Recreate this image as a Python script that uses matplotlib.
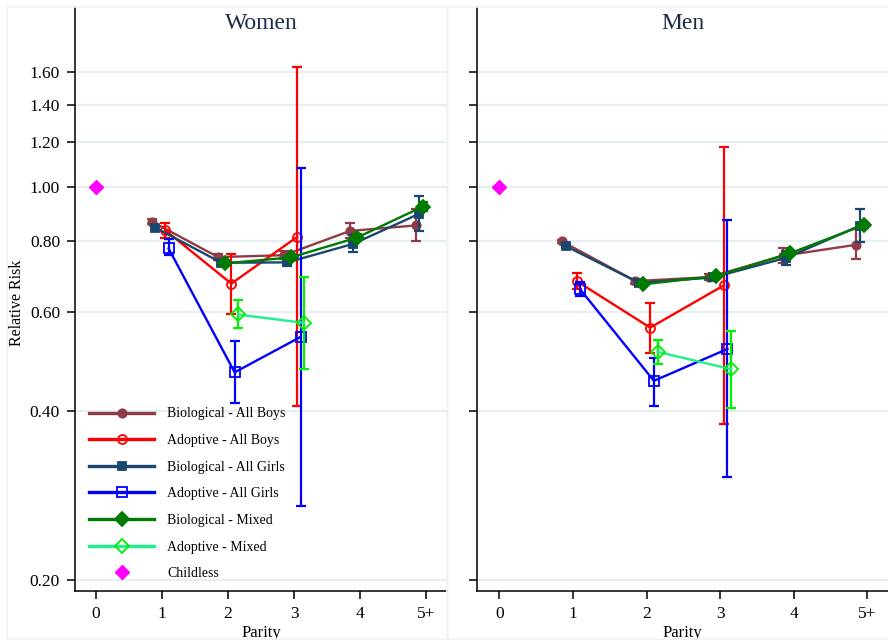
import matplotlib
matplotlib.use("Agg")
import matplotlib.pyplot as plt
from matplotlib.lines import Line2D
from matplotlib.patches import Rectangle
import numpy as np

plt.rcParams['font.family'] = ['Liberation Serif', 'DejaVu Serif']

# ---------------- data ----------------
parity_labels = ["0", "1", "2", "3", "4", "5+"]
yticks = [0.20, 0.40, 0.60, 0.80, 1.00, 1.20, 1.40, 1.60]

series_names = ["Biological - All Boys", "Adoptive - All Boys",
                "Biological - All Girls", "Adoptive - All Girls",
                "Biological - Mixed", "Adoptive - Mixed"]

# parity positions for each series
par_bio = [1, 2, 3, 4, 5]
par_ad = [1, 2, 3]
par_mix_bio = [2, 3, 4, 5]
par_mix_ad = [2, 3]

# Women
w_bio_boys = [0.867, 0.750, 0.756, 0.835, 0.854]
w_bio_boys_lo = [0.860, 0.740, 0.745, 0.810, 0.802]
w_bio_boys_hi = [0.875, 0.760, 0.768, 0.862, 0.912]
w_ad_boys = [0.837, 0.673, 0.815]
w_ad_boys_lo = [0.812, 0.594, 0.408]
w_ad_boys_hi = [0.863, 0.759, 1.635]
w_bio_girls = [0.846, 0.733, 0.734, 0.792, 0.896]
w_bio_girls_lo = [0.840, 0.725, 0.722, 0.765, 0.834]
w_bio_girls_hi = [0.853, 0.742, 0.746, 0.820, 0.963]
w_ad_girls = [0.777, 0.468, 0.541]
w_ad_girls_lo = [0.756, 0.413, 0.271]
w_ad_girls_hi = [0.807, 0.532, 1.080]
w_bio_mix = [0.731, 0.749, 0.812, 0.922]
w_bio_mix_lo = [0.725, 0.742, 0.800, 0.905]
w_bio_mix_hi = [0.737, 0.756, 0.825, 0.940]
w_ad_mix = [0.593, 0.573]
w_ad_mix_lo = [0.562, 0.474]
w_ad_mix_hi = [0.628, 0.691]
w_childless = 1.00

# Men
m_bio_boys = [0.800, 0.680, 0.691, 0.754, 0.789]
m_bio_boys_lo = [0.795, 0.673, 0.683, 0.731, 0.743]
m_bio_boys_hi = [0.805, 0.687, 0.700, 0.777, 0.840]
m_ad_boys = [0.680, 0.562, 0.668]
m_ad_boys_lo = [0.659, 0.507, 0.379]
m_ad_boys_hi = [0.702, 0.622, 1.178]
m_bio_girls = [0.785, 0.675, 0.690, 0.748, 0.853]
m_bio_girls_lo = [0.780, 0.668, 0.682, 0.726, 0.797]
m_bio_girls_hi = [0.790, 0.682, 0.698, 0.770, 0.913]
m_ad_girls = [0.657, 0.452, 0.515]
m_ad_girls_lo = [0.640, 0.408, 0.305]
m_ad_girls_hi = [0.676, 0.497, 0.872]
m_bio_mix = [0.671, 0.694, 0.762, 0.855]
m_bio_mix_lo = [0.667, 0.689, 0.755, 0.845]
m_bio_mix_hi = [0.675, 0.699, 0.770, 0.865]
m_ad_mix = [0.509, 0.474]
m_ad_mix_lo = [0.485, 0.405]
m_ad_mix_hi = [0.534, 0.554]
m_childless = 1.00

# ---------------- styles ----------------
offsets = [-0.15, 0.05, -0.10, 0.10, -0.05, 0.15]
line_colors = ["#903C46", "#FF0000", "#1A476F", "#0000FF", "#007A00", "#1EF08C"]
err_colors = ["#903C46", "#FF0000", "#1A476F", "#0000FF", "#007A00", "#00F000"]
markers = ["o", "o", "s", "s", "D", "D"]
filled = [True, False, True, False, True, False]
msizes = [6, 6.5, 6.3, 6.5, 7, 7]
grid_c = "#E6EEF1"
title_c = "#1E2A4A"

W, H = 888, 640
fig = plt.figure(figsize=(W / 100, H / 100), dpi=100)

# panel outlines
for (x0, x1) in [(7, 447), (448, 895)]:
    fig.add_artist(Rectangle((x0 / W, 1 - 639 / H), (x1 - x0) / W, (639 - 7) / H,
                             transform=fig.transFigure, fill=False,
                             edgecolor="#EEF3F5", lw=1.2))

axL = fig.add_axes([75.3 / W, 49 / H, (447 - 75.3) / W, 584 / H])
axR = fig.add_axes([477.3 / W, 49 / H, (888 - 477.3) / W, 584 / H])


def draw(ax, title, data, childless, xlim, show_labels):
    ax.set_yscale("log")
    ax.set_ylim(0.1912, 2.088)
    ax.set_xlim(*xlim)
    for yv in yticks:
        ax.axhline(yv, color=grid_c, lw=1.6, zorder=0)
    for i, (pars, vals, lo, hi) in enumerate(data):
        xs = np.array(pars, dtype=float) + offsets[i]
        v = np.array(vals)
        yerr = np.vstack([v - np.array(lo), np.array(hi) - v])
        ax.errorbar(xs, v, yerr=yerr, fmt="none", ecolor=err_colors[i],
                    elinewidth=1.6, capsize=3.5, capthick=1.6, zorder=2 + i)
        mfc = err_colors[i] if filled[i] else "none"
        ax.plot(xs, v, color=line_colors[i], lw=1.7, zorder=2 + i)
        ax.plot(xs, v, ls="none", marker=markers[i], ms=msizes[i],
                mfc=mfc, mec=err_colors[i], mew=1.3, zorder=2.5 + i)
    ax.plot([0], [childless], ls="none", marker="D", ms=7, color="#FF00FF",
            mec="#FF00FF", zorder=10)

    ax.set_xticks(range(len(parity_labels)))
    ax.set_xticklabels(parity_labels, fontsize=12.5)
    ax.set_yticks(yticks)
    ax.yaxis.set_minor_locator(matplotlib.ticker.NullLocator())
    if show_labels:
        ax.set_yticklabels(["%.2f" % t for t in yticks], fontsize=12.5)
    else:
        ax.set_yticklabels([])
    ax.tick_params(axis="both", direction="out", length=6, width=1.1,
                   colors="black", pad=5)
    for s in ["top", "right"]:
        ax.spines[s].set_visible(False)
    for s in ["left", "bottom"]:
        ax.spines[s].set_linewidth(1.1)
    ax.text(0.5, 0.972, title, transform=ax.transAxes, ha="center", va="center",
            fontsize=17, color=title_c)
    ax.set_xlabel("Parity", fontsize=12, labelpad=2)


women = [(par_bio, w_bio_boys, w_bio_boys_lo, w_bio_boys_hi),
         (par_ad, w_ad_boys, w_ad_boys_lo, w_ad_boys_hi),
         (par_bio, w_bio_girls, w_bio_girls_lo, w_bio_girls_hi),
         (par_ad, w_ad_girls, w_ad_girls_lo, w_ad_girls_hi),
         (par_mix_bio, w_bio_mix, w_bio_mix_lo, w_bio_mix_hi),
         (par_mix_ad, w_ad_mix, w_ad_mix_lo, w_ad_mix_hi)]
men = [(par_bio, m_bio_boys, m_bio_boys_lo, m_bio_boys_hi),
       (par_ad, m_ad_boys, m_ad_boys_lo, m_ad_boys_hi),
       (par_bio, m_bio_girls, m_bio_girls_lo, m_bio_girls_hi),
       (par_ad, m_ad_girls, m_ad_girls_lo, m_ad_girls_hi),
       (par_mix_bio, m_bio_mix, m_bio_mix_lo, m_bio_mix_hi),
       (par_mix_ad, m_ad_mix, m_ad_mix_lo, m_ad_mix_hi)]

draw(axL, "Women", women, w_childless, (-0.314, 5.318), True)
draw(axR, "Men", men, m_childless, (-0.299, 5.281), False)

fig.text(17 / W, 1 - 303 / H, "Relative Risk", rotation=90, ha="center",
         va="center", fontsize=11.5)

# legend
handles = []
for i in range(6):
    mfc = err_colors[i] if filled[i] else "none"
    handles.append(Line2D([], [], color=line_colors[i], lw=2.4, marker=markers[i],
                          ms=msizes[i], mfc=mfc, mec=err_colors[i], mew=1.3))
handles.append(Line2D([], [], ls="none", marker="D", ms=7, color="#FF00FF"))
labels = series_names + ["Childless"]
leg = axL.legend(handles, labels, loc="upper left",
                 bbox_to_anchor=(89 / W, 1 - 407.5 / H), bbox_transform=fig.transFigure,
                 frameon=False, fontsize=10, handlelength=4.7, handletextpad=0.95,
                 labelspacing=0.98, borderpad=0, borderaxespad=0)

fig.savefig("out.png", dpi=100, facecolor="white")
